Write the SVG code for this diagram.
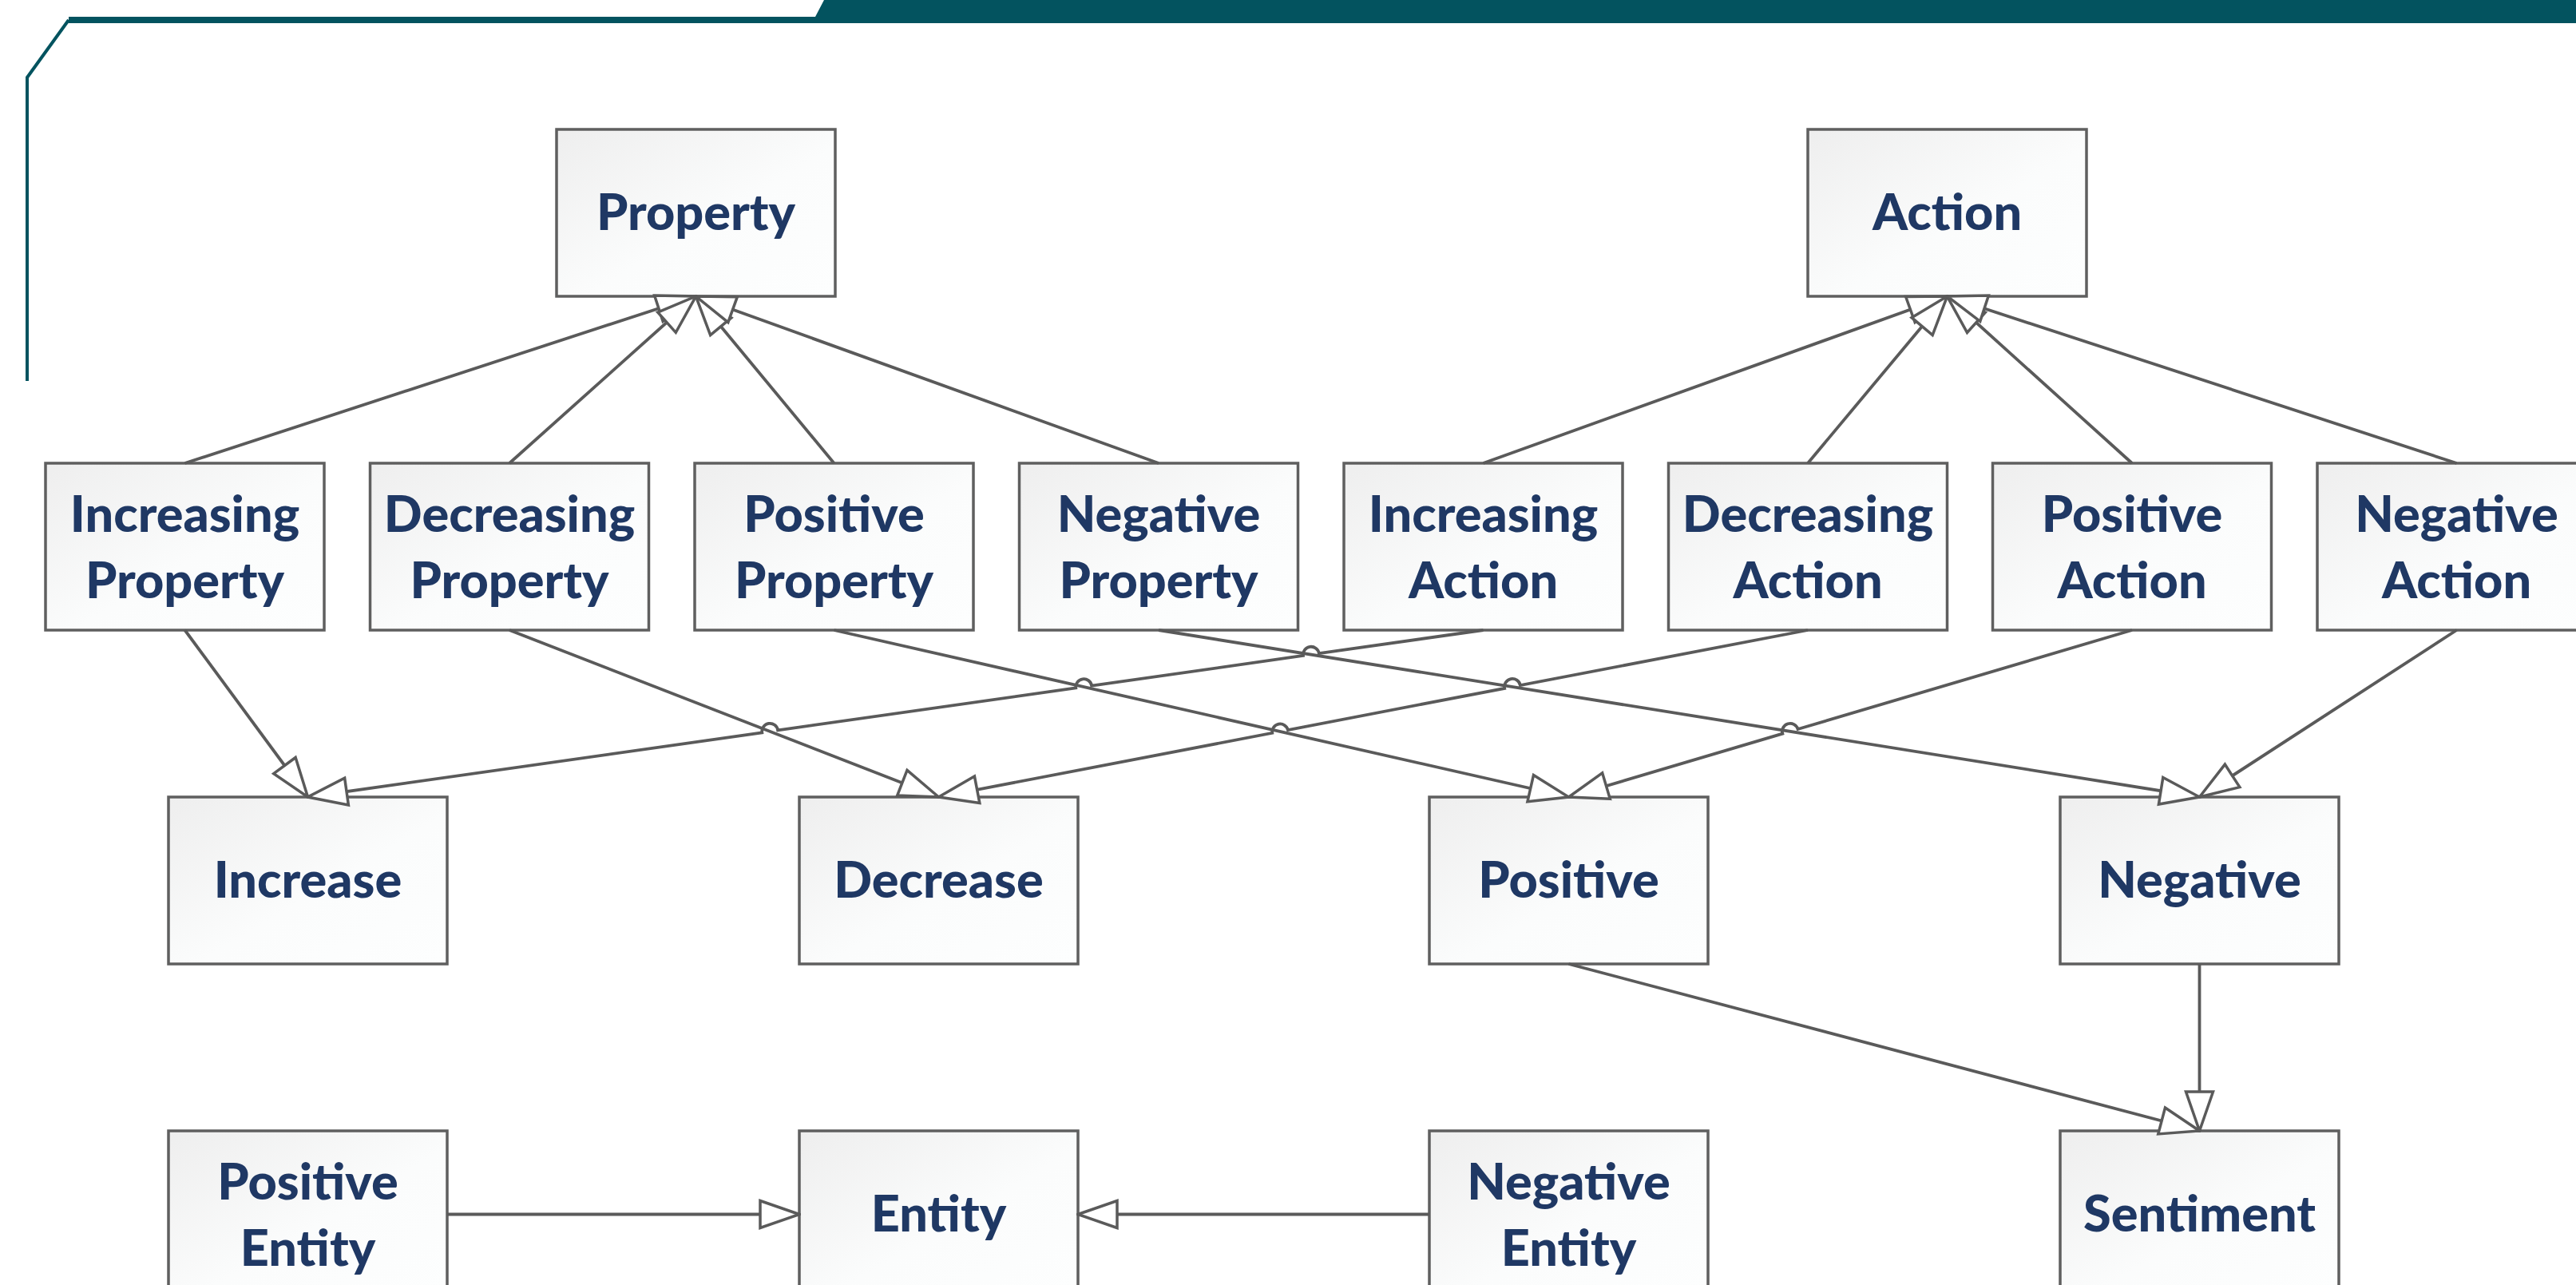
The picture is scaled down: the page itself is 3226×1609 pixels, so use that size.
<svg xmlns="http://www.w3.org/2000/svg" width="3226" height="1609" viewBox="0 0 3226 1609">
  <defs>
    <linearGradient id="boxFill" x1="0" y1="0" x2="1" y2="1">
      <stop offset="0" stop-color="#eeeeee"/>
      <stop offset="0.55" stop-color="#fbfcfc"/>
      <stop offset="1" stop-color="#fdfefe"/>
    </linearGradient>
    <!-- hollow triangle: generalization head -->
    <marker id="gen" viewBox="0 0 54 40" refX="52" refY="20" markerWidth="54" markerHeight="40" markerUnits="userSpaceOnUse" orient="auto">
      <path d="M3,3 L52,20 L3,37 Z" fill="#ffffff" stroke="#5a5a5a" stroke-width="3.5" stroke-linejoin="miter"/>
    </marker>
    <style>
      .box { fill: url(#boxFill); stroke: #5f5f5f; stroke-width: 3.5; }
      .lbl { font-family: "Lato", "Liberation Sans", sans-serif; font-weight: 900; font-size: 63px; fill: #1f3864; text-anchor: middle; }
      .edge { fill: none; stroke: #5a5a5a; stroke-width: 3.8; marker-end: url(#gen); }
      .frame { fill: none; stroke: #03535f; stroke-width: 4; }
    </style>
  </defs>

  <!-- page header band -->
  <g id="header">
    <polygon points="1032,0 3226,0 3226,29 86,29 86,21 1021,21" fill="#03535f"/>
    <path class="frame" d="M86,25 L34,97 L34,477"/>
  </g>

  <!-- top level -->
  <g id="property"><rect class="box" x="697" y="162" width="349" height="209"/><text class="lbl" x="871.5" y="288">Property</text></g>
  <g id="action"><rect class="box" x="2264" y="162" width="349" height="209"/><text class="lbl" x="2438.5" y="288">Action</text></g>

  <!-- specialised properties and actions -->
  <g id="increasing-property"><rect class="box" x="57" y="580" width="349" height="209"/><text class="lbl" x="231.5" y="665.5">Increasing</text><text class="lbl" x="231.5" y="748.5">Property</text></g>
  <g id="decreasing-property"><rect class="box" x="463.5" y="580" width="349" height="209"/><text class="lbl" x="638" y="665.5">Decreasing</text><text class="lbl" x="638" y="748.5">Property</text></g>
  <g id="positive-property"><rect class="box" x="870" y="580" width="349" height="209"/><text class="lbl" x="1044.5" y="665.5">Positive</text><text class="lbl" x="1044.5" y="748.5">Property</text></g>
  <g id="negative-property"><rect class="box" x="1276.5" y="580" width="349" height="209"/><text class="lbl" x="1451" y="665.5">Negative</text><text class="lbl" x="1451" y="748.5">Property</text></g>
  <g id="increasing-action"><rect class="box" x="1683" y="580" width="349" height="209"/><text class="lbl" x="1857.5" y="665.5">Increasing</text><text class="lbl" x="1857.5" y="748.5">Action</text></g>
  <g id="decreasing-action"><rect class="box" x="2089.5" y="580" width="349" height="209"/><text class="lbl" x="2264" y="665.5">Decreasing</text><text class="lbl" x="2264" y="748.5">Action</text></g>
  <g id="positive-action"><rect class="box" x="2495.5" y="580" width="349" height="209"/><text class="lbl" x="2670" y="665.5">Positive</text><text class="lbl" x="2670" y="748.5">Action</text></g>
  <g id="negative-action"><rect class="box" x="2902" y="580" width="349" height="209"/><text class="lbl" x="3076.5" y="665.5">Negative</text><text class="lbl" x="3076.5" y="748.5">Action</text></g>

  <!-- effect classes -->
  <g id="increase"><rect class="box" x="211" y="998" width="349" height="209"/><text class="lbl" x="385.5" y="1124">Increase</text></g>
  <g id="decrease"><rect class="box" x="1001" y="998" width="349" height="209"/><text class="lbl" x="1175.5" y="1124">Decrease</text></g>
  <g id="positive"><rect class="box" x="1790" y="998" width="349" height="209"/><text class="lbl" x="1964.5" y="1124">Positive</text></g>
  <g id="negative"><rect class="box" x="2580" y="998" width="349" height="209"/><text class="lbl" x="2754.5" y="1124">Negative</text></g>

  <!-- entities and sentiment -->
  <g id="positive-entity"><rect class="box" x="211" y="1416" width="349" height="209"/><text class="lbl" x="385.5" y="1501.5">Positive</text><text class="lbl" x="385.5" y="1584.5">Entity</text></g>
  <g id="entity"><rect class="box" x="1001" y="1416" width="349" height="209"/><text class="lbl" x="1175.5" y="1542">Entity</text></g>
  <g id="negative-entity"><rect class="box" x="1790" y="1416" width="349" height="209"/><text class="lbl" x="1964.5" y="1501.5">Negative</text><text class="lbl" x="1964.5" y="1584.5">Entity</text></g>
  <g id="sentiment"><rect class="box" x="2580" y="1416" width="349" height="209"/><text class="lbl" x="2754.5" y="1542">Sentiment</text></g>

  <!-- generalization connectors -->
  <g id="connectors">
    <path class="edge" d="M231.5,580 L871.5,371"/>
    <path class="edge" d="M638,580 L871.5,371"/>
    <path class="edge" d="M1044.5,580 L871.5,371"/>
    <path class="edge" d="M1451,580 L871.5,371"/>
    <path class="edge" d="M1857.5,580 L2438.5,371"/>
    <path class="edge" d="M2264,580 L2438.5,371"/>
    <path class="edge" d="M2670,580 L2438.5,371"/>
    <path class="edge" d="M3076.5,580 L2438.5,371"/>

    <path class="edge" d="M231.5,789 L385.5,998"/>
    <path class="edge" d="M638,789 L1175.5,998"/>
    <path class="edge" d="M1044.5,789 L1964.5,998"/>
    <path class="edge" d="M1451,789 L2754.5,998"/>
    <!-- action lines hop over the property lines -->
    <path class="edge" d="M1857.5,789 L1651.8,818.2 A10,10 0 0 0 1632,821 L1367.1,858.6 A10,10 0 0 0 1347.3,861.4 L974.1,914.4 A10,10 0 0 0 954.3,917.3 L385.5,998"/>
    <path class="edge" d="M2264,789 L1903.9,858.1 A10,10 0 0 0 1884.2,861.9 L1612.9,914 A10,10 0 0 0 1593.3,917.8 L1175.5,998"/>
    <path class="edge" d="M2670,789 L2251.5,913 A10,10 0 0 0 2232.3,918.6 L1964.5,998"/>
    <path class="edge" d="M3076.5,789 L2754.5,998"/>

    <path class="edge" d="M1964.5,1207 L2754.5,1416"/>
    <path class="edge" d="M2754.5,1207 L2754.5,1416"/>

    <path class="edge" d="M560,1520.5 L1001,1520.5"/>
    <path class="edge" d="M1790,1520.5 L1350,1520.5"/>
  </g>
</svg>
